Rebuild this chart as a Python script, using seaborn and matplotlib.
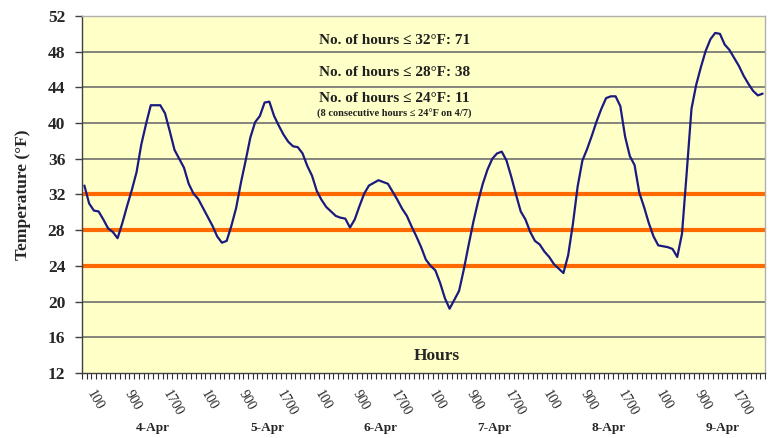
import numpy as np
import pandas as pd
import seaborn as sns
import matplotlib.pyplot as plt
import matplotlib.transforms as mtransforms

# hourly air temperature, 4-Apr 0100 through 9-Apr 2400
temps = [
    33.0, 31.0, 30.2, 30.1, 29.2, 28.2, 27.8, 27.1, 28.8, 30.7, 32.5, 34.5,
    37.6, 39.9, 42.0, 42.0, 42.0, 41.1, 39.1, 37.0, 36.0, 35.0, 33.2, 32.1,
    31.5, 30.5, 29.5, 28.5, 27.3, 26.6, 26.8, 28.5, 30.5, 33.3, 35.8, 38.4,
    40.1, 40.8, 42.3, 42.4, 40.8, 39.7, 38.7, 37.9, 37.4, 37.3, 36.6, 35.2,
    34.1, 32.4, 31.4, 30.6, 30.1, 29.6, 29.4, 29.3, 28.3, 29.2, 30.7, 32.1,
    33.0, 33.3, 33.6, 33.4, 33.2, 32.3, 31.4, 30.4, 29.6, 28.4, 27.3, 26.1,
    24.7, 24.0, 23.5, 22.1, 20.4, 19.2, 20.2, 21.2, 23.6, 26.3, 28.9, 31.2,
    33.2, 34.8, 36.0, 36.6, 36.8, 35.8, 34.0, 32.0, 30.1, 29.2, 27.8, 26.8,
    26.4, 25.6, 25.0, 24.2, 23.7, 23.2, 25.2, 28.7, 32.9, 35.8, 37.1, 38.6,
    40.2, 41.6, 42.8, 43.0, 43.0, 41.9, 38.5, 36.3, 35.3, 32.2, 30.6, 28.8,
    27.3, 26.3, 26.2, 26.1, 25.9, 25.0, 27.6, 34.5, 41.6, 44.3, 46.3, 48.1,
    49.4, 50.1, 50.0, 48.8, 48.2, 47.3, 46.4, 45.3, 44.4, 43.6, 43.1, 43.3,
]
days = ["4-Apr", "5-Apr", "6-Apr", "7-Apr", "8-Apr", "9-Apr"]
hour_labels = ["100", "900", "1700"]
thresholds = [32, 28, 24]
notes = [
    "No. of hours \u2264 32\u00b0F: 71",
    "No. of hours \u2264 28\u00b0F: 38",
    "No. of hours \u2264 24\u00b0F: 11",
]
sub_note = "(8 consecutive hours \u2264 24\u00b0F on 4/7)"

df = pd.DataFrame({"hour": np.arange(len(temps)), "temp": temps})

sns.set_style("white", {"xtick.bottom": True, "ytick.left": True})
plt.rcParams["font.family"] = ["Liberation Serif", "DejaVu Serif"]
plt.rcParams["xtick.bottom"] = True
plt.rcParams["ytick.left"] = True

fig = plt.figure(figsize=(7.7, 4.38), dpi=100)
ax = fig.add_axes([0.1065, 0.1484, 0.887, 0.8151])
ax.set_facecolor("#FFFFC8")

# gridlines every 4 degrees
for y in range(16, 52, 4):
    ax.axhline(y, color="#707070", lw=1.2, zorder=1)
for t in thresholds:
    ax.axhline(t, color="#FF6A00", lw=3, zorder=2)

sns.lineplot(data=df, x="hour", y="temp", color="#1A1A80", lw=1.6, ax=ax, zorder=3)

ax.set_xlim(-0.5, len(temps) - 0.5)
ax.set_ylim(12, 52)
ax.set_yticks(range(12, 53, 4))
ax.set_yticklabels([str(v) for v in range(12, 53, 4)], fontsize=12.5, fontweight="bold")

major = np.arange(0, len(temps), 8)
ax.set_xticks(major)
ax.set_xticklabels([hour_labels[k % 3] for k in range(len(major))],
                   rotation=-60, ha="left", va="top", fontsize=10)
ax.set_xticks(np.arange(-0.5, len(temps), 1), minor=True)
ax.tick_params(axis="x", which="major", length=0, pad=11)
ax.tick_params(axis="x", which="minor", length=4, width=0.8,
               color="#303030", direction="out")
ax.tick_params(axis="y", length=5, width=1, color="#404040",
               direction="out", pad=7)

ax.set_xlabel("")
ax.set_ylabel("Temperature (\u00b0F)", fontsize=12.5, fontweight="bold", labelpad=12)

for side in ["left", "bottom"]:
    ax.spines[side].set_color("#404040")
    ax.spines[side].set_linewidth(1)
for side in ["top", "right"]:
    ax.spines[side].set_color("#B0B0B0")
    ax.spines[side].set_linewidth(1)

trans = mtransforms.blended_transform_factory(ax.transData, ax.transAxes)
for d, name in enumerate(days):
    ax.text(d * 24 + 14.5, -0.155, name, transform=trans, ha="center", va="center",
            fontsize=9.5, fontweight="bold")

ax.text(0.52, 0.047, "Hours", transform=ax.transAxes, ha="center", va="center",
        fontsize=12.5, fontweight="bold")

note_y = [0.93, 0.843, 0.77]
for txt, yy in zip(notes, note_y):
    ax.text(0.457, yy, txt, transform=ax.transAxes, ha="center", va="center",
            fontsize=11, fontweight="bold", color="#202020")
ax.text(0.457, 0.725, sub_note, transform=ax.transAxes, ha="center", va="center",
        fontsize=7.5, fontweight="bold", color="#202020")

fig.savefig("out.png", dpi=100)
